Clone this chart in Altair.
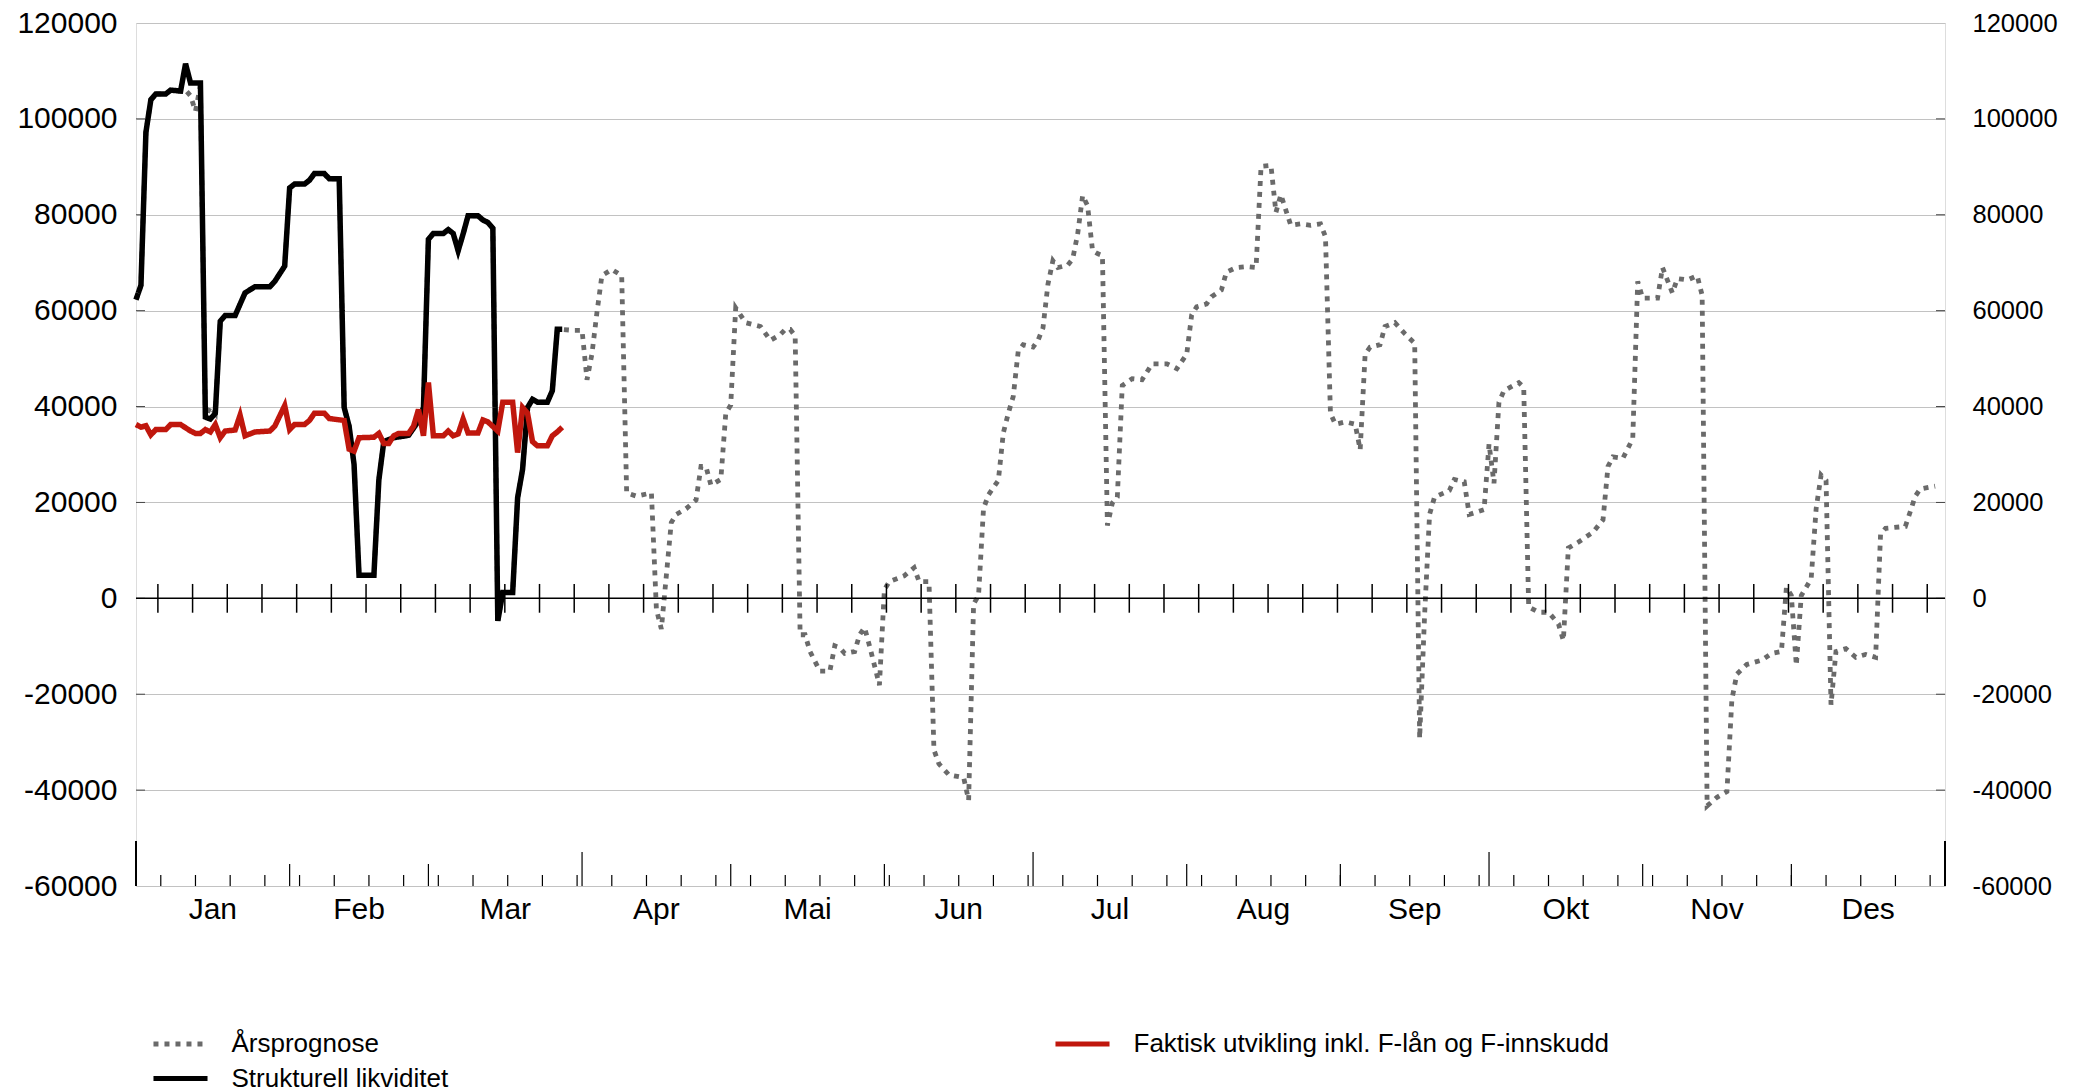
import altair as alt
import pandas as pd

FONT = "Liberation Sans"
START = pd.Timestamp("2007-01-01")

S_FORE = "Årsprognose"
S_FAKT = "Faktisk utvikling inkl. F-lån og F-innskudd"
S_STRUK = "Strukturell likviditet"
SERIES = [S_FORE, S_STRUK, S_FAKT]
COLORS = ["#6a6a6a", "#000000", "#c0170d"]
DASHES = [[5, 6], [1, 0], [1, 0]]

MONTHS = ["Jan", "Feb", "Mar", "Apr", "Mai", "Jun", "Jul", "Aug", "Sep", "Okt", "Nov", "Des"]
MONTH_LABEL_POS = ["2007-01-16 12:00", "2007-02-15 00:00", "2007-03-16 12:00", "2007-04-16 00:00",
                   "2007-05-16 12:00", "2007-06-16 00:00", "2007-07-16 12:00", "2007-08-16 12:00",
                   "2007-09-16 00:00", "2007-10-16 12:00", "2007-11-16 00:00", "2007-12-16 12:00"]
MONTH_TICKS = ["2007-02-01", "2007-03-01", "2007-05-01", "2007-06-01", "2007-08-01",
               "2007-09-01", "2007-11-01", "2007-12-01"]
QUARTER_TICKS = ["2007-04-01", "2007-07-01", "2007-10-01"]
EDGE_TICKS = ["2007-01-01", "2008-01-01"]
YTICKS = [-60000, -40000, -20000, 0, 20000, 40000, 60000, 80000, 100000, 120000]

# day index counted from 1 January (0 = 1 Jan)
struk_day = [0, 1, 2, 3, 4, 6, 7, 9, 10, 11, 13, 14, 15, 16, 17, 18, 20, 22, 24, 27, 28, 30,
             31, 32, 34, 35, 36, 38, 39, 41, 42, 43, 44, 45, 48, 49, 50, 52, 55, 57, 58,
             59, 60, 62, 63, 64, 65, 66, 67, 69, 70, 71, 72, 73, 74, 76, 77, 78, 79, 80, 81, 83, 84, 85, 86]
struk_val = [62300, 65300, 97200, 104000, 105200, 105200, 106000, 105800, 111500, 107500, 107500,
             37800, 37400, 38600, 57800, 59000, 59000, 63700, 65000, 65000, 66100, 69300,
             85600, 86400, 86400, 87200, 88600, 88600, 87500, 87500, 39800, 35900, 27900, 4800, 4800,
             24700, 32700, 33500, 34000, 37000, 39800,
             74900, 76100, 76100, 76900, 76100, 72500, 76000, 79800, 79800, 78900, 78400, 77200,
             -4700, 1200, 1200, 21000, 26900, 39800, 41500, 40900, 40900, 43300, 56100, 56100]

fakt_day = [0, 1, 2, 3, 4, 6, 7, 9, 11, 12, 13, 14, 15, 16, 17, 18, 20, 21, 22, 24, 27, 28, 30,
            31, 32, 34, 35, 36, 38, 39, 42, 43, 44, 45, 48, 49, 50, 51, 52, 53, 55, 56, 57, 58,
            59, 60, 62, 63, 64, 65, 66, 67, 69, 70, 71, 73, 74, 76, 77, 78, 79, 80, 81, 83, 84, 85, 86]
fakt_val = [36250, 35700, 36000, 34100, 35200, 35200, 36250, 36250, 34900, 34400, 34400, 35200,
            34700, 36250, 33500, 34900, 35100, 38200, 33900, 34700, 34900, 35900, 40200,
            35200, 36250, 36250, 37100, 38600, 38600, 37500, 37100, 31100, 30700, 33500, 33600,
            34400, 32300, 32300, 33900, 34400, 34400, 35900, 39400, 33900,
            45000, 33900, 33900, 34900, 33900, 34300, 37400, 34500, 34500, 37200, 36800, 34900,
            40900, 40900, 30400, 39800, 38600, 32700, 31800, 31800, 33900, 34700, 35700]

fore_day = (
    [0, 1, 2, 3, 4, 6, 7, 9, 10, 11, 12, 13, 14, 15, 16, 17, 18, 20, 22, 24, 27, 28, 30]
    + [31, 32, 34, 35, 36, 38, 39, 41, 42, 43, 44, 45, 48, 49, 50, 52, 55, 57, 58]
    + [59, 60, 62, 63, 64, 65, 66, 67, 69, 70, 71, 72, 73, 74, 76, 77, 78, 79, 80, 81, 83, 84, 85, 86, 88]
    + [90, 91, 92, 93, 94, 96, 98, 99, 101, 104, 105, 106, 108, 109, 111, 113, 114, 115, 116, 118, 119]
    + [120, 121, 123, 126, 128, 130, 131, 132, 133, 134, 135, 136, 138, 140, 141, 142, 143, 145, 146, 147, 148, 150]
    + [151, 152, 155, 157, 158, 160, 161, 162, 164, 167, 168, 169, 170, 171, 172, 174, 175, 176, 177, 178, 179]
    + [181, 182, 183, 184, 185, 186, 188, 189, 190, 191, 192, 193, 194, 195, 196, 197, 198, 199, 201, 203, 205, 208, 210]
    + [212, 213, 214, 216, 217, 219, 220, 222, 224, 226, 227, 229, 230, 231, 233, 235, 237, 239, 240, 241, 242]
    + [244, 246, 247, 248, 249, 251, 252, 254, 256, 258, 259, 260, 261, 262, 265, 266, 268, 269, 272]
    + [273, 274, 275, 276, 279, 280, 281, 283, 285, 287, 288, 289, 291, 294, 296, 297, 298, 300, 302, 303]
    + [304, 307, 308, 310, 311, 313, 315, 316, 317, 319, 321, 322, 323, 325, 328, 330, 332, 333]
    + [334, 335, 336, 337, 338, 339, 340, 341, 342, 343, 345, 347, 349, 351, 352, 353, 357, 358, 359, 360, 363]
)
fore_val = (
    [62300, 65300, 97200, 104000, 105200, 105200, 106000, 105800, 106000, 104800, 101600, 107000,
     37800, 40000, 38600, 57800, 59000, 59000, 63700, 65000, 65000, 66100, 69300]
    + [85600, 86400, 86400, 87200, 88600, 88600, 87500, 87500, 39800, 35900, 27900, 4800, 4800,
       24700, 32700, 33500, 34000, 37000, 39800]
    + [74900, 76100, 76100, 76900, 76100, 72500, 76000, 79800, 79800, 78900, 78400, 77200,
       -4700, 1200, 1200, 21000, 26900, 39800, 41500, 40900, 40900, 43300, 56100, 56100, 55900]
    + [55900, 45600, 51000, 59600, 67300, 68600, 67300, 22000, 21300, 22000, -2300, -6400, 15800,
       17500, 18700, 20500, 27500, 27500, 23600, 24800, 38600]
    + [40300, 60600, 57500, 56700, 53800, 55000, 56100, 56100, 54700, -7600, -7600, -11100, -15200,
       -15200, -9900, -10300, -11500, -11100, -7600, -6100, -9900, -18100]
    + [1800, 3500, 4700, 6400, 3500, 3500, -31600, -34500, -36800, -37400, -42100, -1200, 600,
       18700, 21600, 24600, 34500, 38600, 42100, 51500, 52900]
    + [52400, 53800, 56400, 65500, 70400, 69000, 69500, 70800, 76000, 84000, 81900, 72500, 71900,
       71500, 15200, 19900, 21100, 44400, 45800, 45600, 48900, 48900, 47900]
    + [50900, 59100, 60800, 61400, 62900, 64300, 68000, 69000, 69200, 69000, 90100, 90300, 80500,
       84200, 77800, 78100, 77800, 78100, 75400, 38600, 36300]
    + [36800, 36300, 31000, 50900, 52400, 52900, 56700, 57500, 55200, 53200, -29200, -3500, 17500,
       21100, 22500, 24800, 24300, 17500, 18500]
    + [32200, 24000, 40900, 43300, 45000, 44000, -1800, -2900, -2900, -5300, -8800, 10500, 11700,
       13800, 16400, 27500, 29500, 29200, 33300, 66100]
    + [62600, 62600, 69000, 63700, 66700, 66400, 67300, 63200, -43300, -41500, -40300, -21100,
       -15800, -13800, -12900, -11500, -11100, 2300]
    + [600, -14000, 600, 2300, 4100, 18700, 25700, 24600, -22200, -11100, -10500, -12300, -11700,
       -12300, 13400, 14600, 15000, 18100, 21300, 22800, 23400]
)

W, H = 1809, 863


def to_dates(days):
    return START + pd.to_timedelta(days, unit="D")


def dt(ts):
    t = pd.Timestamp(ts)
    return alt.DateTime(year=t.year, month=t.month, date=t.day, hours=t.hour)


fore_df = pd.DataFrame({"date": to_dates(fore_day), "value": fore_val, "serie": S_FORE})
struk_df = pd.DataFrame({"date": to_dates(struk_day), "value": struk_val, "serie": S_STRUK})
fakt_df = pd.DataFrame({"date": to_dates(fakt_day), "value": fakt_val, "serie": S_FAKT})
month_df = pd.DataFrame({"date": pd.to_datetime(MONTH_LABEL_POS), "label": MONTHS})

xs = alt.Scale(domain=[dt("2007-01-01"), dt("2008-01-01")], nice=False)
ys = alt.Scale(domain=[-60000, 120000], nice=False, zero=False)
cs = alt.Scale(domain=SERIES, range=COLORS)
ds = alt.Scale(domain=SERIES, range=DASHES)

# a wide, flat line symbol on a small symbol size keeps the legend rows tight
leg = alt.Legend(title=None, orient="none", legendX=30.5, legendY=1007, columns=2,
                 columnPadding=596, rowPadding=7.5, symbolType="M-2.35,0H2.35", symbolSize=529,
                 symbolStrokeWidth=5, labelFontSize=26, labelFont=FONT, labelOffset=37,
                 labelColor="black", padding=0, labelLimit=0)

y_left = alt.Axis(orient="left", values=YTICKS, grid=True, gridColor="#c2c2c2", gridWidth=1,
                  ticks=False, domain=False, labelFontSize=30, labelFont=FONT, labelColor="black",
                  labelPadding=19, title=None, labelExpr="'' + datum.value")
y_right = alt.Axis(orient="right", values=YTICKS, grid=False, ticks=False, domain=False,
                   labelFontSize=25.5, labelFont=FONT, labelColor="black", labelPadding=27,
                   title=None, labelExpr="'' + datum.value")


def line(df, width, yaxis=None):
    return alt.Chart(df).mark_line(strokeWidth=width, strokeJoin="miter", strokeCap="butt").encode(
        x=alt.X("date:T", scale=xs, axis=None),
        y=alt.Y("value:Q", scale=ys, axis=yaxis),
        color=alt.Color("serie:N", scale=cs, legend=leg),
        strokeDash=alt.StrokeDash("serie:N", scale=ds, legend=leg),
    )


fore = line(fore_df, 4.8, y_left)
struk = line(struk_df, 5.5, y_right)
fakt = line(fakt_df, 5.5)

# month names under the plot
mlabels = alt.Chart(month_df).mark_text(fontSize=30, font=FONT, color="black",
                                        baseline="middle", align="center").encode(
    x=alt.X("date:T", scale=xs, axis=None), y=alt.value(H + 24), text="label:N")

# inner ticks on the vertical axes
ytick_df = pd.DataFrame({"v": YTICKS[1:-1]})
ltick = alt.Chart(ytick_df).mark_rule(color="#444444", strokeWidth=1).encode(
    y=alt.Y("v:Q", scale=ys, axis=None), x=alt.value(0), x2=alt.value(9))
rtick = alt.Chart(ytick_df).mark_rule(color="#444444", strokeWidth=1).encode(
    y=alt.Y("v:Q", scale=ys, axis=None), x=alt.value(W - 9), x2=alt.value(W))

# zero line with weekly ticks
zero = alt.Chart(pd.DataFrame({"v": [0]})).mark_rule(color="black", strokeWidth=1.5).encode(
    y=alt.Y("v:Q", scale=ys, axis=None))
zweeks = pd.DataFrame({"date": pd.date_range("2007-01-05 10:00", "2007-12-31", freq="7D")})
zticks = alt.Chart(zweeks).mark_rule(color="black", strokeWidth=1.5).encode(
    x=alt.X("date:T", scale=xs, axis=None),
    y=alt.YDatum(3000, scale=ys, axis=None), y2=alt.Y2Datum(-3000))


def bottom_ticks(dates, length, width=1.2):
    df = pd.DataFrame({"date": pd.to_datetime(dates)})
    return alt.Chart(df).mark_rule(color="black", strokeWidth=width).encode(
        x=alt.X("date:T", scale=xs, axis=None), y=alt.value(H), y2=alt.value(H - length))


bweeks = pd.date_range("2007-01-06", "2007-12-31", freq="7D")
bt_w = bottom_ticks(bweeks, 11)
bt_m = bottom_ticks(MONTH_TICKS, 22)
bt_q = bottom_ticks(QUARTER_TICKS, 34)
bt_e = bottom_ticks(EDGE_TICKS, 45, 2)

chart = alt.layer(
    fore, ltick, rtick, bt_w, bt_m, bt_q, bt_e, zero, zticks, mlabels, struk, fakt
).resolve_axis(y="independent").resolve_scale(y="shared", x="shared").properties(
    width=W, height=H,
    padding={"left": 128, "top": 15, "right": 145, "bottom": 204},
    autosize=alt.AutoSizeParams(type="none"),
    background="white",
).configure_view(stroke="black", strokeWidth=1.2).configure(font=FONT)

chart.save("out.html", embed_options={"renderer": "svg", "actions": False})
